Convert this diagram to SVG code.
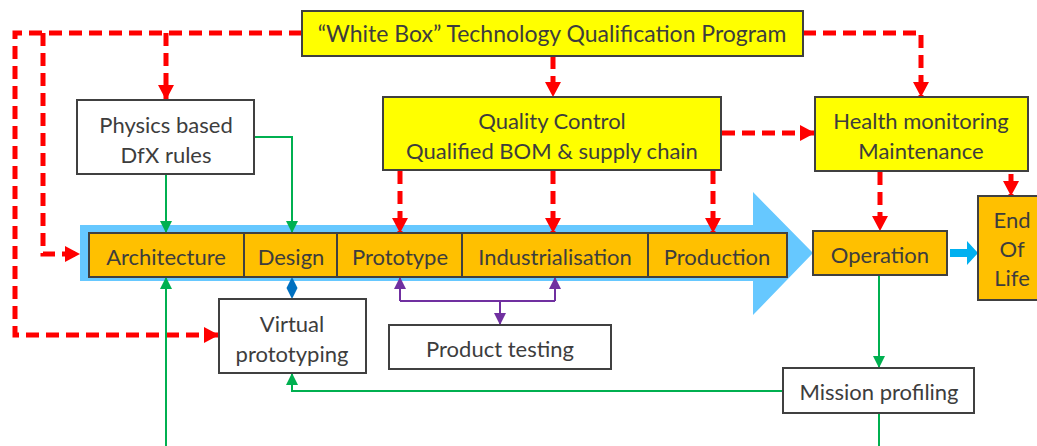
<svg xmlns="http://www.w3.org/2000/svg" width="1037" height="446" viewBox="0 0 1037 446">
  <style>
    text { font-family: Lato, "Liberation Sans", sans-serif; font-size: 22px; fill: #3d3d3d; text-anchor: middle; dominant-baseline: central; }
    .title { font-size: 23px; }
    .box { stroke: #404040; stroke-width: 2; }
    .white { fill: #ffffff; }
    .yellow { fill: #ffff00; }
    .orange { fill: #ffc000; }
    .red { fill: none; stroke: #ff0000; stroke-width: 5; stroke-dasharray: 13 7; }
    .green { fill: none; stroke: #00b050; stroke-width: 2; }
    .purple { fill: none; stroke: #7030a0; stroke-width: 2; }
  </style>
  <defs>
    <marker id="arrRed" markerUnits="userSpaceOnUse" markerWidth="16" markerHeight="16" refX="15" refY="8" orient="auto">
      <path d="M0,0 L15,8 L0,16 z" fill="#ff0000"/>
    </marker>
    <marker id="arrGreen" markerUnits="userSpaceOnUse" markerWidth="12" markerHeight="12" refX="12" refY="6" orient="auto">
      <path d="M0,0 L12,6 L0,12 z" fill="#00b050"/>
    </marker>
    <marker id="arrPurple" markerUnits="userSpaceOnUse" markerWidth="12" markerHeight="12" refX="12" refY="6" orient="auto">
      <path d="M0,0 L12,6 L0,12 z" fill="#7030a0"/>
    </marker>
  </defs>

  <!-- lifecycle band -->
  <polygon id="lifecycle-band" points="80,225 753,225 753,192 813,253 753,315 753,281 80,281" fill="#66c8ff"/>

  <!-- connectors -->
  <g id="connectors">
    <path class="red" d="M302,33 H15 V335 H219" marker-end="url(#arrRed)"/>
    <path class="red" d="M43,33 V254 H80" marker-end="url(#arrRed)"/>
    <path class="red" d="M166,33 V100" marker-end="url(#arrRed)"/>
    <path class="red" d="M553,56 V97" marker-end="url(#arrRed)"/>
    <path class="red" d="M803,33 H921 V97" marker-end="url(#arrRed)"/>
    <path class="red" d="M722,133 H815" marker-end="url(#arrRed)"/>
    <path class="red" d="M400,171 V233" marker-end="url(#arrRed)"/>
    <path class="red" d="M553,171 V233" marker-end="url(#arrRed)"/>
    <path class="red" d="M713,171 V233" marker-end="url(#arrRed)"/>
    <path class="red" d="M880,172 V231" marker-end="url(#arrRed)"/>
    <path class="red" d="M1011,174 V196" marker-end="url(#arrRed)"/>

    <path class="green" d="M166,174 V233" marker-end="url(#arrGreen)"/>
    <path class="green" d="M254,137 H292 V233" marker-end="url(#arrGreen)"/>
    <path class="green" d="M166,446 V277" marker-end="url(#arrGreen)"/>
    <path class="green" d="M879,275 V368" marker-end="url(#arrGreen)"/>
    <path class="green" d="M879,413 V446"/>
    <path class="green" d="M783,391 H292 V373" marker-end="url(#arrGreen)"/>

    <path class="purple" d="M400,301 H555"/>
    <path class="purple" d="M400,301 V277" marker-end="url(#arrPurple)"/>
    <path class="purple" d="M555,301 V277" marker-end="url(#arrPurple)"/>
    <path class="purple" d="M500,301 V325" marker-end="url(#arrPurple)"/>

    <polygon points="292,277 297.5,288 292,299 286.5,288" fill="#0070c0"/>
    <polygon points="950,249 967,249 967,241 978,253 967,265 967,257 950,257" fill="#00b0f0"/>
  </g>

  <g id="white-box-program">
    <rect class="box yellow" x="302" y="11" width="501" height="45"/>
    <text class="title" x="552" y="33">“White Box” Technology Qualification Program</text>
  </g>
  <g id="physics-dfx">
    <rect class="box white" x="77" y="100" width="177" height="74"/>
    <text x="166" y="124">Physics based</text>
    <text x="166" y="154">DfX rules</text>
  </g>
  <g id="quality-control">
    <rect class="box yellow" x="383" y="97" width="338" height="73"/>
    <text x="552" y="120">Quality Control</text>
    <text x="552" y="150">Qualified BOM &amp; supply chain</text>
  </g>
  <g id="health-monitoring">
    <rect class="box yellow" x="815" y="97" width="213" height="74"/>
    <text x="921" y="120">Health monitoring</text>
    <text x="921" y="150">Maintenance</text>
  </g>

  <g id="architecture">
    <rect class="box orange" x="89" y="233" width="155" height="44"/>
    <text x="166" y="256">Architecture</text>
  </g>
  <g id="design">
    <rect class="box orange" x="244" y="233" width="93" height="44"/>
    <text x="291" y="256">Design</text>
  </g>
  <g id="prototype">
    <rect class="box orange" x="337" y="233" width="125" height="44"/>
    <text x="400" y="256">Prototype</text>
  </g>
  <g id="industrialisation">
    <rect class="box orange" x="462" y="233" width="186" height="44"/>
    <text x="555" y="256">Industrialisation</text>
  </g>
  <g id="production">
    <rect class="box orange" x="648" y="233" width="139" height="44"/>
    <text x="717" y="256">Production</text>
  </g>
  <g id="operation">
    <rect class="box orange" x="813" y="231" width="134" height="44"/>
    <text x="880" y="254">Operation</text>
  </g>
  <g id="end-of-life">
    <rect class="box orange" x="978" y="196" width="70" height="104"/>
    <text x="1012" y="219">End</text>
    <text x="1012" y="248">Of</text>
    <text x="1012" y="277">Life</text>
  </g>

  <g id="virtual-prototyping">
    <rect class="box white" x="219" y="299" width="147" height="74"/>
    <text x="292" y="323">Virtual</text>
    <text x="292" y="353">prototyping</text>
  </g>
  <g id="product-testing">
    <rect class="box white" x="389" y="325" width="222" height="44"/>
    <text x="500" y="348">Product testing</text>
  </g>
  <g id="mission-profiling">
    <rect class="box white" x="783" y="368" width="191" height="45"/>
    <text x="879" y="391">Mission profiling</text>
  </g>
</svg>
